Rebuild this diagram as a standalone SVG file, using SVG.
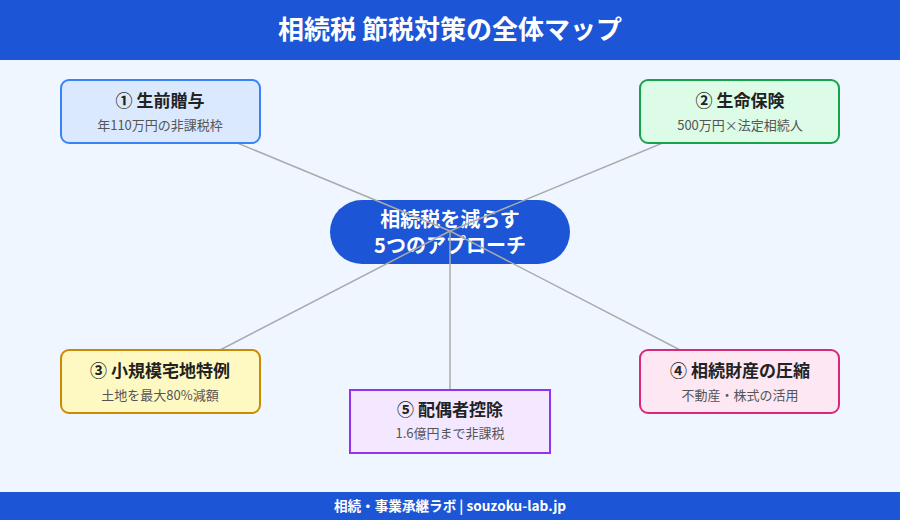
<svg xmlns="http://www.w3.org/2000/svg" width="900" height="520" viewBox="0 0 900 520">
<style>
text{font-family:"Noto Sans CJK JP","Noto Sans",sans-serif;text-anchor:middle}
.t{font-size:17px;font-weight:bold;fill:#222}
.s{font-size:13px;fill:#555}
.b{stroke-width:2;rx:8}
.c line{stroke:#aaa;stroke-width:1.5}
</style>
<rect width="900" height="520" fill="#eff6ff"/>
<rect width="900" height="60" fill="#1c55d6"/>
<text x="450" y="39" font-size="26" font-weight="bold" fill="#fff">相続税 節税対策の全体マップ</text>
<rect y="492" width="900" height="28" fill="#1c55d6"/>
<text x="450" y="511" font-size="13.6" font-weight="bold" fill="#fff">相続・事業承継ラボ | souzoku-lab.jp</text>
<g id="center"><rect x="330" y="200" width="240" height="64" rx="32" fill="#1c55d6"/>
<text x="450" y="227" font-size="20" font-weight="bold" fill="#fff">相続税を減らす</text>
<text x="450" y="253" font-size="20" font-weight="bold" fill="#fff">5つのアプローチ</text></g>
<g class="c" id="connectors">
<line x1="450" y1="231" x2="160" y2="111"/><line x1="450" y1="231" x2="740" y2="111"/>
<line x1="450" y1="231" x2="160" y2="381"/><line x1="450" y1="231" x2="740" y2="381"/>
<line x1="450" y1="231" x2="450" y2="421"/></g>
<g id="n1"><rect class="b" x="61" y="80" width="199" height="63" fill="#dbe9fe" stroke="#3b82f6"/>
<text class="t" x="160" y="107">① 生前贈与</text><text class="s" x="160" y="130">年110万円の非課税枠</text></g>
<g id="n2"><rect class="b" x="640" y="80" width="199" height="63" fill="#dcfce7" stroke="#16a34a"/>
<text class="t" x="740" y="107">② 生命保険</text><text class="s" x="740" y="130">500万円×法定相続人</text></g>
<g id="n3"><rect class="b" x="61" y="350" width="199" height="63" fill="#fef9c3" stroke="#ca8a04"/>
<text class="t" x="160" y="377">③ 小規模宅地特例</text><text class="s" x="160" y="400">土地を最大80%減額</text></g>
<g id="n4"><rect class="b" x="640" y="350" width="199" height="63" fill="#fce7f3" stroke="#db2777"/>
<text class="t" x="740" y="377">④ 相続財産の圧縮</text><text class="s" x="740" y="400">不動産・株式の活用</text></g>
<g id="n5"><rect x="350" y="390" width="200" height="63" fill="#f3e8ff" stroke="#9333ea" stroke-width="2"/>
<text class="t" x="450" y="416">⑤ 配偶者控除</text><text class="s" x="450" y="438" font-size="12">1.6億円まで非課税</text></g>
</svg>
